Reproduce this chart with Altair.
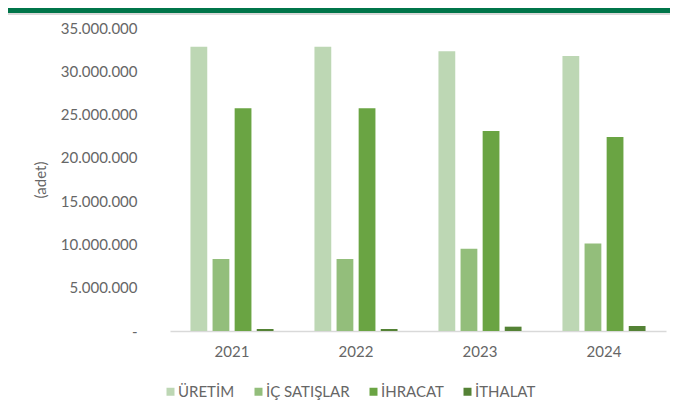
import altair as alt
import pandas as pd

years = ["2021", "2022", "2023", "2024"]
series = ["ÜRETİM", "İÇ SATIŞLAR", "İHRACAT", "İTHALAT"]
uretim = [32840000, 32830000, 32300000, 31780000]
ic_satislar = [8320000, 8330000, 9500000, 10100000]
ihracat = [25720000, 25730000, 23100000, 22400000]
ithalat = [220000, 230000, 500000, 580000]
colors = ["#BDD7B4", "#93BE7B", "#6AA443", "#548235"]
y_ticks = [0, 5000000, 10000000, 15000000, 20000000, 25000000, 30000000, 35000000]

rows = []
for name, vals in zip(series, [uretim, ic_satislar, ihracat, ithalat]):
    for yr, v in zip(years, vals):
        rows.append({"Yıl": yr, "Seri": name, "Değer": v})
df = pd.DataFrame(rows)

FONT = "Lato"
TXT = "#666666"

bars = alt.Chart(df).mark_bar().encode(
    x=alt.X("Yıl:N", sort=years,
            scale=alt.Scale(paddingInner=0.33, paddingOuter=0.165),
            axis=alt.Axis(title=None, labelAngle=0, ticks=False,
                          domainColor="#D9D9D9", domainWidth=1.5,
                          labelPadding=13, labelFontSize=15,
                          labelFontWeight="normal",
                          labelColor=TXT, labelFont=FONT)),
    xOffset=alt.XOffset("Seri:N", sort=series,
                        scale=alt.Scale(paddingInner=0.24, paddingOuter=0)),
    y=alt.Y("Değer:Q",
            scale=alt.Scale(domain=[0, 35000000], nice=False),
            axis=alt.Axis(title="(adet)", values=y_ticks, grid=False,
                          ticks=False, domain=False, labelPadding=33,
                          labelFontSize=15, labelColor=TXT, labelFont=FONT,
                          labelFontWeight="normal",
                          labelExpr="datum.value == 0 ? '-' : replace(format(datum.value, ','), regexp(',', 'g'), '.')",
                          titleFont=FONT, titleFontSize=15, titleColor=TXT,
                          titleFontWeight="normal", titlePadding=12)),
    color=alt.Color("Seri:N", sort=series,
                    scale=alt.Scale(domain=series, range=colors),
                    legend=alt.Legend(title=None, orient="none",
                                      direction="horizontal",
                                      legendX=-7, legendY=356,
                                      padding=0,
                                      symbolType="square", symbolSize=64,
                                      symbolStrokeWidth=0,
                                      labelFont=FONT, labelFontSize=15,
                                      labelColor=TXT, labelOffset=0,
                                      columnPadding=16)),
)

band = alt.Chart(pd.DataFrame({"a": [0]})).mark_rect(color="#00754A").encode(
    x=alt.value(-162), x2=alt.value(500), y=alt.value(-20), y2=alt.value(-15)
)
band2 = alt.Chart(pd.DataFrame({"a": [0]})).mark_rect(color="#D9D9D9").encode(
    x=alt.value(-162), x2=alt.value(500), y=alt.value(-15), y2=alt.value(-13)
)

chart = alt.layer(band, band2, bars).properties(
    width=496, height=303,
    autosize=alt.AutoSizeParams(type="none"),
    padding={"left": 162, "top": 20, "right": 4, "bottom": 75},
).configure(background="white").configure_view(stroke=None, strokeWidth=0)

chart.save("out.html", embed_options={"renderer": "svg", "actions": False})
